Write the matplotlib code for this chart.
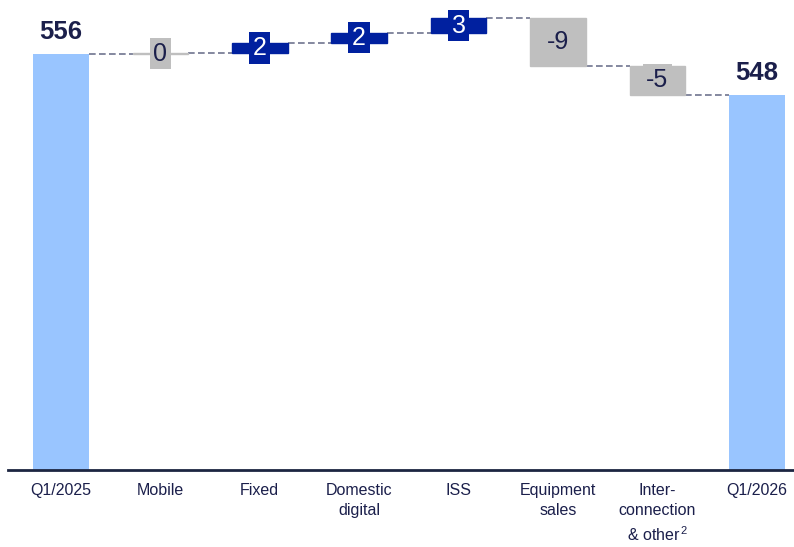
import matplotlib.pyplot as plt

plt.rcParams["mathtext.fontset"] = "custom"
plt.rcParams["mathtext.rm"] = "Liberation Sans"
plt.rcParams["mathtext.it"] = "Liberation Sans"

categories = ["Q1/2025", "Mobile", "Fixed", "Domestic\ndigital", "ISS",
              "Equipment\nsales", "Inter-\nconnection\n& other$^{\\,2}$", "Q1/2026"]
start_total = 556
end_total = 548
deltas = [0.1, 2.1, 1.9, 2.8, -9.2, -5.7]
delta_labels = ["0", "2", "2", "3", "-9", "-5"]

light_blue = "#99c5ff"
navy = "#00209f"
gray = "#bfbfbf"
dark = "#1b1f4b"
w = 0.56

fig = plt.figure(figsize=(7.94, 5.47), dpi=100)
ax = fig.add_axes([0.01, 0.1407, 0.99, 0.8593])

# totals
ax.bar(0, start_total, width=w, color=light_blue)
ax.bar(len(categories) - 1, end_total, width=w, color=light_blue)
ax.text(0, start_total + 2.0, str(start_total), ha="center", va="bottom",
        fontsize=18.5, fontweight="bold", color=dark, family="Liberation Sans")
ax.text(len(categories) - 1, end_total + 2.0, str(end_total), ha="center", va="bottom",
        fontsize=18.5, fontweight="bold", color=dark, family="Liberation Sans")

level = start_total
levels = [level]
for i, (d, lab) in enumerate(zip(deltas, delta_labels), start=1):
    c = navy if int(lab) > 0 else gray
    tc = "white" if int(lab) > 0 else dark
    ax.bar(i, d, bottom=level, width=w, color=c, edgecolor=c, linewidth=1)
    ax.text(i, level + d / 2, lab, ha="center", va="center", fontsize=18,
            color=tc, family="Liberation Sans",
            bbox=dict(boxstyle="square,pad=0.15", fc=c, ec="none"))
    level += d
    levels.append(level)

# connectors
for i, lv in enumerate(levels):
    ax.plot([i + w / 2, i + 1 - w / 2], [lv, lv], color="#70748f",
            lw=1.2, ls=(0, (4, 2)), zorder=0)

ax.set_xlim(-0.533, 7.374)
ax.set_ylim(474.8, 566.5)
ax.set_yticks([])
ax.set_xticks(range(len(categories)))
ax.set_xticklabels(categories, fontsize=11.5, color=dark, family="Liberation Sans",
                   linespacing=1.45, va="top")
ax.tick_params(axis="x", length=0, pad=9)
for s in ["top", "left", "right"]:
    ax.spines[s].set_visible(False)
ax.spines["bottom"].set_color("#1c2541")
ax.spines["bottom"].set_linewidth(2)

fig.savefig("out.png", dpi=100)
